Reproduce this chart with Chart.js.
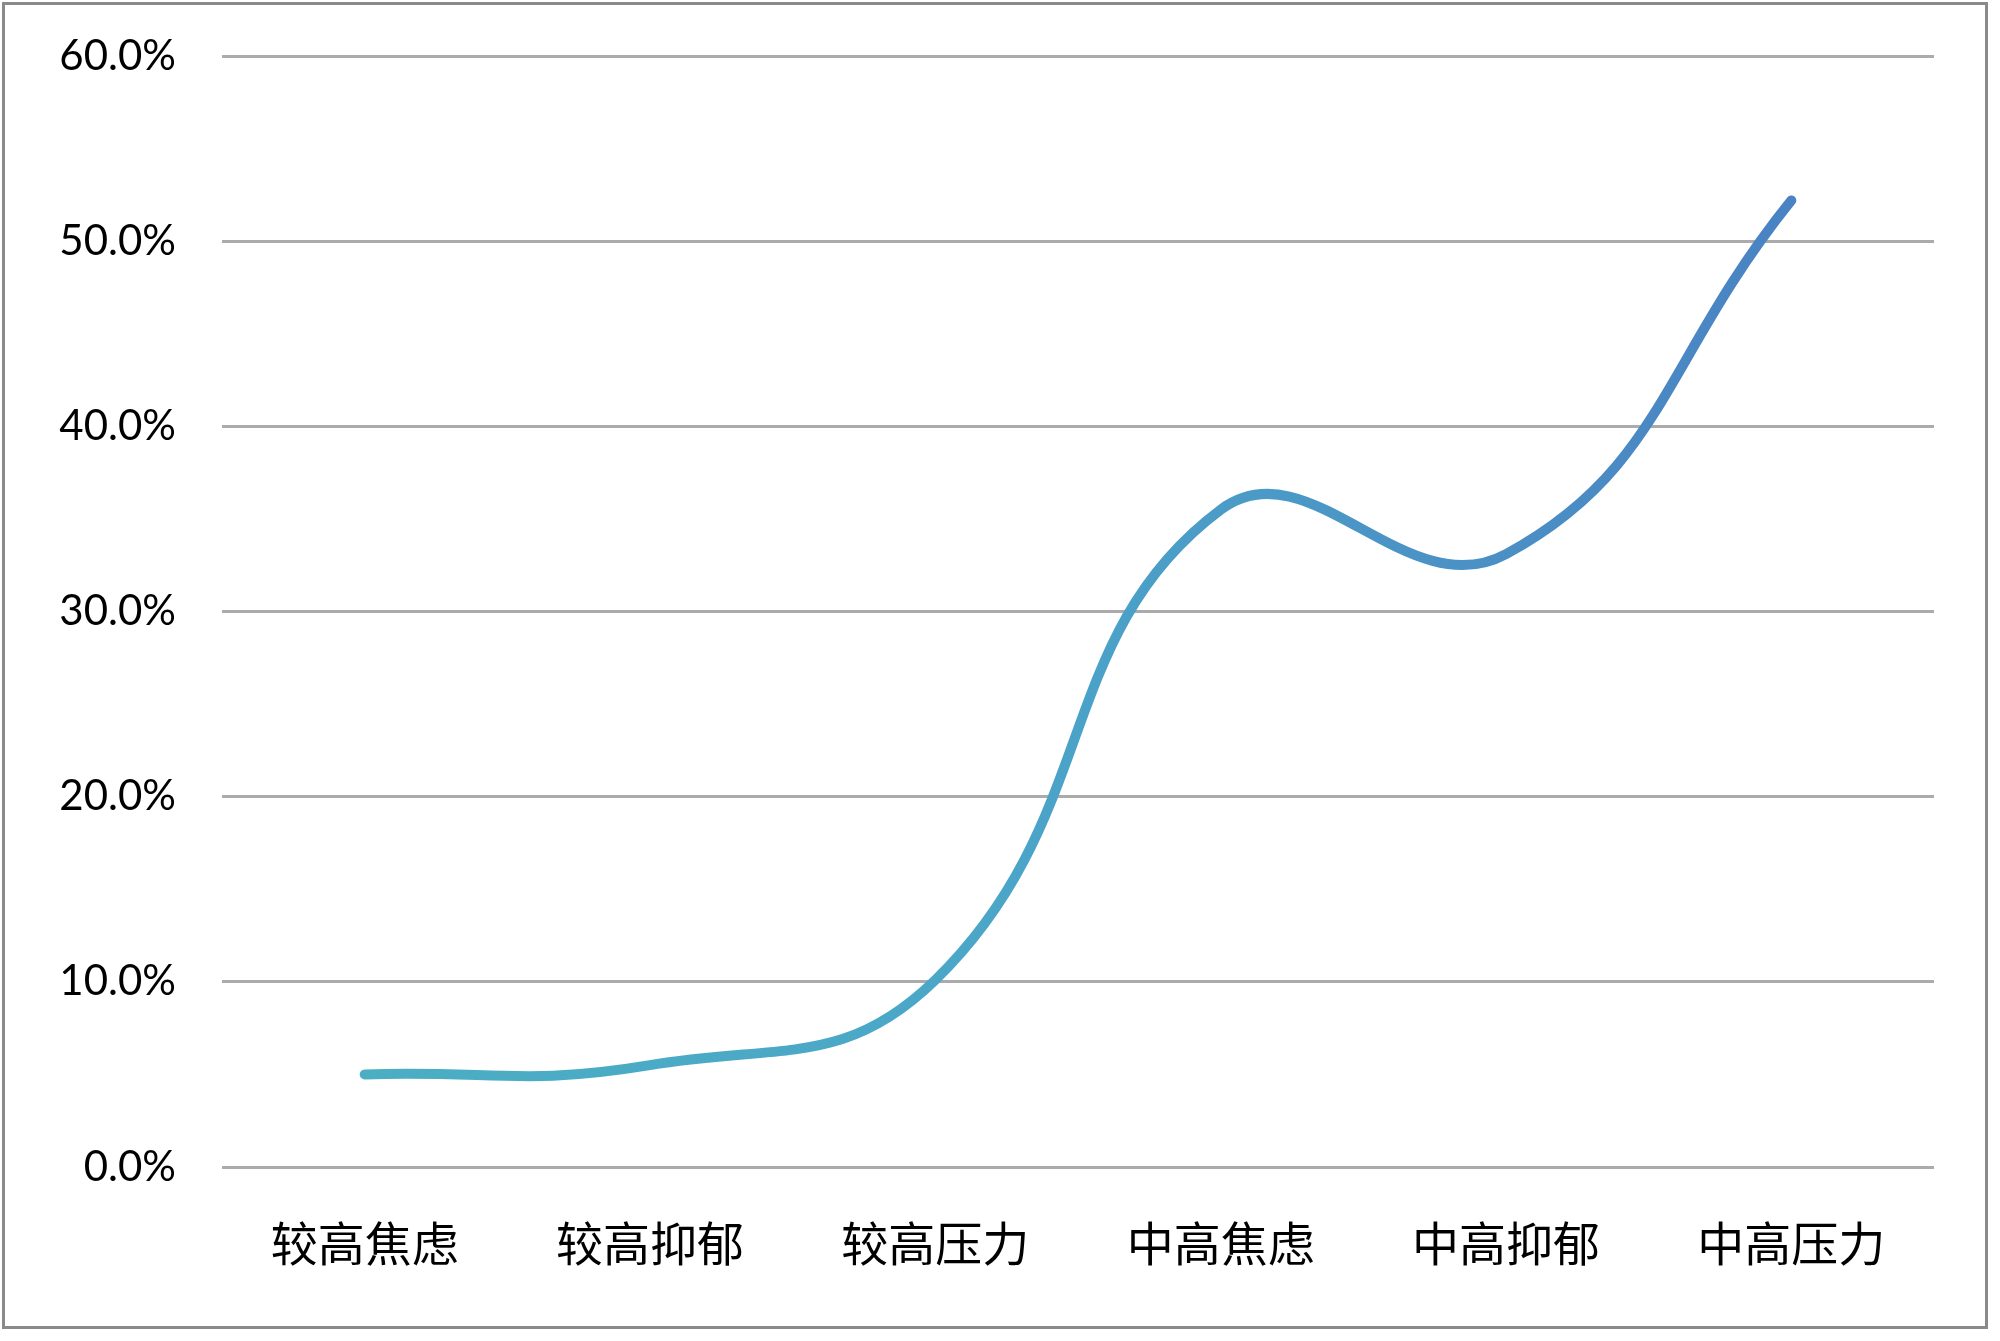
<!DOCTYPE html>
<html>
<head>
<meta charset="utf-8">
<script src="https://cdn.jsdelivr.net/npm/chart.js@4/dist/chart.umd.min.js"></script>
<style>
  html, body { margin: 0; padding: 0; background: #fff; }
  #wrap { width: 2000px; height: 1341px; }
</style>
</head>
<body>
<div id="wrap"><canvas id="stress-chart" width="2000" height="1341"></canvas></div>
<script>
  // categories and values (percent)
  var categories = ['较高焦虑', '较高抑郁', '较高压力', '中高焦虑', '中高抑郁', '中高压力'];
  var rates = [5.0, 5.5, 10.1, 35.5, 33.1, 52.2];
  var yTicks = [0, 10, 20, 30, 40, 50, 60];

  // gray frame round the whole chart
  var framePlugin = {
    id: 'frame',
    afterDraw: function(chart) {
      var c = chart.ctx;
      c.save();
      c.strokeStyle = '#8a8a8a';
      c.lineWidth = 3;
      c.strokeRect(3.5, 3.5, 1983, 1324);
      c.restore();
    }
  };

  function lineGradient(ctx) {
    var area = ctx.chart.chartArea;
    if (!area) return '#4BACC6';
    var g = ctx.chart.ctx.createLinearGradient(area.left, 0, area.right, 0);
    g.addColorStop(0, '#4BB0C2');
    g.addColorStop(0.45, '#4BA6C8');
    g.addColorStop(1, '#4A7CC2');
    return g;
  }

  var config = {
    type: 'line',
    data: {
      labels: categories,
      datasets: [{
        data: rates,
        borderColor: lineGradient,
        borderWidth: 10,
        borderCapStyle: 'round',
        borderJoinStyle: 'round',
        pointRadius: 0,
        tension: 0.45,
        fill: false
      }]
    },
    options: {
      responsive: false,
      animation: false,
      layout: { padding: { top: 56, right: 66, left: 0, bottom: 0 } },
      plugins: {
        legend: { display: false },
        tooltip: { enabled: false }
      },
      scales: {
        x: {
          offset: true,
          grid: { display: false, drawTicks: false },
          border: { display: false },
          ticks: {
            color: '#000',
            padding: 48,
            maxRotation: 0,
            font: { family: '"Noto Sans CJK SC"', size: 47 }
          },
          afterFit: function(scale) { scale.height = 174; }
        },
        y: {
          min: 0,
          max: 60,
          afterBuildTicks: function(scale) {
            scale.ticks = yTicks.map(function(v) { return { value: v }; });
          },
          grid: { color: '#ababab', lineWidth: 3, drawTicks: false },
          border: { display: false },
          ticks: {
            color: '#000',
            padding: 46,
            font: { family: 'Lato', size: 42 },
            callback: function(v) { return v.toFixed(1) + '%'; }
          },
          afterFit: function(scale) {
            scale.width = 222;
            scale.paddingTop = 0;
            scale.paddingBottom = 0;
          }
        }
      }
    },
    plugins: [framePlugin]
  };

  window.onload = function() {
    var ctx = document.getElementById('stress-chart').getContext('2d');
    window.myLine = new Chart(ctx, config);
  };
</script>
</body>
</html>
